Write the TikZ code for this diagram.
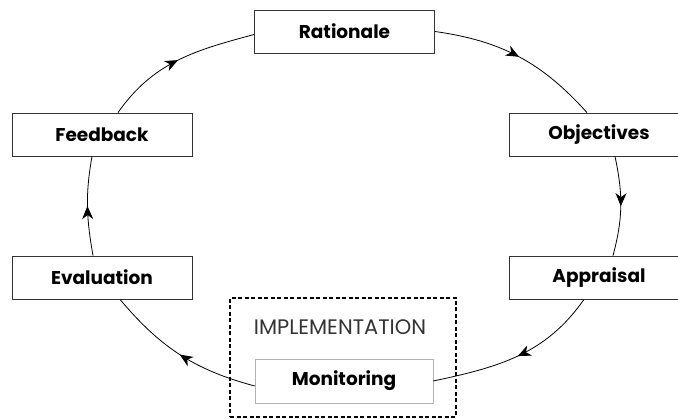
\documentclass[tikz,border=0pt]{standalone}
\usepackage{fontspec}
\setmainfont{Poppins}
\usetikzlibrary{arrows.meta,decorations.markings}
\begin{document}
\begin{tikzpicture}[x=1pt,y=-1pt,
  stage/.style={draw=black!80,line width=0.8pt,minimum width=180pt,minimum height=43pt,inner sep=0pt,font=\fontsize{18.5}{21}\selectfont\bfseries},
  conn/.style={line width=0.8pt,postaction={decorate},decoration={markings,mark=at position 0.5 with {\arrow{Stealth[length=13pt,width=11pt,inset=4pt]}}}}]
\useasboundingbox (0,0) rectangle (678,419);
\clip (0,0) rectangle (678,419);
\node[stage] (rat) at (344.5,31.5) {Rationale};
\node[stage] (obj) at (599,134.5) {Objectives};
\node[stage] (app) at (599,277.5) {Appraisal};
\node[stage,draw=black!30,line width=0.6pt,minimum width=178pt,minimum height=44pt] (mon) at (344,381) {Monitoring};
\node[stage] (ev) at (102,277.5) {Evaluation};
\node[stage] (fb) at (102,134.5) {Feedback};
\node[draw,line width=1.2pt,dash pattern=on 4pt off 2.5pt,minimum width=226pt,minimum height=119pt,inner sep=0pt] (impl) at (343,357.5) {};
\node[font=\fontsize{21}{24}\selectfont\color{black!80}] (impltxt) at (340,327) {IMPLEMENTATION};
\draw[conn] (rat.east) to[out=-8,in=132] ([xshift=-12pt]obj.north);
\draw[conn] ([xshift=16pt]obj.south) to[out=-78,in=75] ([xshift=14pt]app.north);
\draw[conn] ([xshift=-15pt]app.south) to[out=-125,in=12] (mon.east);
\draw[conn] ([yshift=-5pt]mon.west) to[out=165,in=-50] ([xshift=18pt]ev.south);
\draw[conn] ([xshift=-9pt]ev.north) to[out=100,in=-100] ([xshift=-10pt]fb.south);
\draw[conn] ([xshift=16pt]fb.north) to[out=55,in=195] ([yshift=-3pt]rat.west);
\end{tikzpicture}
\end{document}
